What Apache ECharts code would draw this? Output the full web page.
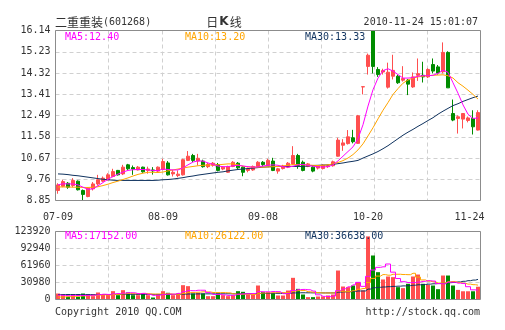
<!DOCTYPE html>
<html>
<head>
<meta charset="utf-8">
<script src="https://cdn.jsdelivr.net/npm/echarts@6/dist/echarts.min.js"></script>
<style>
  html, body { margin: 0; padding: 0; background: #fff; }
  #chart { width: 505px; height: 330px; }
</style>
</head>
<body>
<div id="chart"></div>
<script>
// 二重重装 (601268) daily candles, 2010-07-09 .. 2010-11-24
const openP = [
  9.28, 9.46, 9.59, 9.49, 9.68, 9.28, 9.02, 9.35, 9.56, 9.68,
  9.74, 9.88, 10.14, 9.99, 10.38, 10.26, 10.16, 10.28, 10.14, 10.16,
  10.11, 10.18, 10.46, 9.99, 9.92, 9.95, 10.57, 10.78, 10.54, 10.54,
  10.30, 10.36, 10.39, 10.20, 10.06, 10.31, 10.45, 10.28, 10.14, 10.16,
  10.31, 10.49, 10.35, 10.54, 10.11, 10.22, 10.28, 10.42, 10.78, 10.49,
  10.31, 10.28, 10.24, 10.22, 10.30, 10.34, 10.75, 11.22, 11.29, 11.54,
  11.30, 13.72, 14.60, 16.14, 14.47, 14.36, 13.71, 14.18, 14.18, 14.01,
  14.01, 13.72, 14.22, 14.22, 14.15, 14.68, 14.58, 14.37, 15.20, 12.58,
  12.37, 12.34, 12.28, 12.37, 11.87
];
const closeP = [
  9.52, 9.66, 9.42, 9.71, 9.31, 9.11, 9.38, 9.56, 9.74, 9.81,
  9.95, 10.09, 9.95, 10.28, 10.21, 10.20, 10.28, 10.08, 10.20, 10.12,
  10.28, 10.52, 9.95, 10.06, 9.98, 10.60, 10.75, 10.57, 10.66, 10.30,
  10.40, 10.45, 10.14, 10.28, 10.31, 10.49, 10.25, 10.06, 10.21, 10.31,
  10.49, 10.39, 10.57, 10.14, 10.21, 10.33, 10.45, 10.78, 10.35, 10.14,
  10.42, 10.11, 10.32, 10.36, 10.34, 10.51, 11.44, 11.32, 11.58, 11.37,
  12.48, 13.73, 15.08, 14.60, 14.25, 14.42, 14.35, 14.43, 13.90, 14.08,
  13.84, 14.15, 14.29, 14.15, 14.47, 14.40, 14.32, 15.20, 13.68, 12.30,
  12.44, 12.58, 12.39, 12.01, 12.62
];
const lowP = [
  9.14, 9.42, 9.35, 9.42, 9.28, 8.85, 8.99, 9.28, 9.49, 9.64,
  9.71, 9.85, 9.92, 9.94, 10.16, 9.95, 10.14, 10.04, 10.00, 9.96,
  10.06, 10.14, 9.92, 9.88, 9.85, 9.92, 10.54, 10.50, 10.35, 10.26,
  10.24, 10.30, 10.10, 10.15, 10.03, 10.28, 10.20, 9.89, 10.06, 10.12,
  10.26, 10.31, 10.33, 10.11, 10.00, 10.18, 10.24, 10.38, 10.21, 10.10,
  10.28, 10.06, 10.18, 10.18, 10.25, 10.30, 10.73, 10.98, 11.25, 11.30,
  11.28, 13.40, 14.25, 14.30, 14.15, 14.25, 13.65, 14.04, 13.85, 13.95,
  13.37, 13.68, 13.98, 13.91, 14.10, 14.30, 14.25, 14.30, 13.68, 12.25,
  11.72, 11.94, 12.20, 11.68, 11.85
];
const highP = [
  9.59, 9.74, 9.64, 9.81, 9.71, 9.32, 9.42, 9.64, 9.95, 9.88,
  10.02, 10.21, 10.16, 10.38, 10.42, 10.35, 10.33, 10.30, 10.30, 10.28,
  10.31, 10.64, 10.54, 10.16, 10.14, 10.64, 10.97, 10.85, 10.85, 10.60,
  10.46, 10.50, 10.46, 10.32, 10.34, 10.54, 10.50, 10.32, 10.26, 10.35,
  10.54, 10.54, 10.64, 10.68, 10.25, 10.38, 10.50, 11.18, 10.85, 10.56,
  10.46, 10.32, 10.36, 10.40, 10.38, 10.56, 11.54, 11.48, 11.87, 11.88,
  12.52, 13.73, 15.15, 16.14, 14.57, 14.50, 14.76, 15.10, 14.25, 14.61,
  14.06, 14.34, 14.94, 14.80, 14.52, 14.94, 14.66, 15.63, 15.25, 13.18,
  12.50, 12.60, 12.45, 12.72, 12.72
];
const volume = [
  10900, 7900, 4900, 7900, 4900, 10900, 9100, 6100, 12800, 9100,
  9100, 15200, 7900, 17000, 12800, 7900, 7900, 10300, 7900, 3600,
  9700, 15200, 12200, 7900, 10900, 26100, 24300, 10900, 12200, 10900,
  6100, 6100, 10900, 7900, 6100, 7900, 15200, 14000, 9100, 8500,
  25500, 13400, 13400, 11500, 7300, 7300, 16400, 39500, 19400, 9100,
  4300, 4300, 5500, 5500, 7300, 9100, 52800, 23700, 22500, 25500,
  31600, 16400, 115000, 80200, 49800, 36500, 41900, 40700, 22500, 20700,
  28600, 41900, 45500, 28600, 26700, 25500, 18800, 43700, 43700, 25500,
  17500, 15000, 15000, 15000, 23260
];
// price moving averages
const ma5 = [
  9.52, 9.57, 9.56, 9.56, 9.52, 9.42, 9.33, 9.35, 9.48, 9.62,
  9.76, 9.88, 9.98, 10.07, 10.14, 10.17, 10.18, 10.18, 10.16, 10.14,
  10.13, 10.20, 10.18, 10.16, 10.16, 10.25, 10.38, 10.50, 10.55, 10.54,
  10.46, 10.40, 10.33, 10.30, 10.30, 10.34, 10.36, 10.33, 10.30, 10.28,
  10.29, 10.33, 10.36, 10.38, 10.36, 10.30, 10.28, 10.32, 10.38, 10.40,
  10.36, 10.32, 10.29, 10.29, 10.30, 10.38, 10.55, 10.75, 10.95, 11.15,
  11.50, 12.10, 12.90, 13.60, 14.10, 14.42, 14.50, 14.40, 14.25, 14.10,
  14.10, 14.12, 14.18, 14.20, 14.20, 14.22, 14.30, 14.44, 14.35, 13.90,
  13.45, 12.95, 12.55, 12.36, 12.40
];
const ma10 = [
  9.43, 9.43, 9.43, 9.42, 9.42, 9.41, 9.41, 9.42, 9.44, 9.49,
  9.55, 9.62, 9.68, 9.75, 9.82, 9.90, 9.97, 10.02, 10.06, 10.06,
  10.05, 10.07, 10.12, 10.16, 10.20, 10.24, 10.28, 10.31, 10.34, 10.36,
  10.37, 10.38, 10.38, 10.40, 10.42, 10.42, 10.38, 10.32, 10.29, 10.28,
  10.28, 10.28, 10.29, 10.30, 10.31, 10.33, 10.36, 10.39, 10.39, 10.38,
  10.37, 10.36, 10.35, 10.36, 10.38, 10.42, 10.48, 10.56, 10.67, 10.82,
  11.02, 11.28, 11.62, 11.97, 12.35, 12.72, 13.05, 13.40, 13.65, 13.88,
  14.02, 14.10, 14.15, 14.18, 14.20, 14.22, 14.23, 14.24, 14.20, 14.10,
  13.90, 13.75, 13.58, 13.40, 13.20
];
const ma30 = [
  9.99, 9.98, 9.96, 9.93, 9.91, 9.88, 9.85, 9.82, 9.79, 9.76,
  9.74, 9.72, 9.71, 9.71, 9.71, 9.71, 9.71, 9.71, 9.71, 9.71,
  9.72, 9.74, 9.75, 9.77, 9.80, 9.83, 9.87, 9.90, 9.94, 9.97,
  10.00, 10.03, 10.06, 10.08, 10.12, 10.15, 10.18, 10.20, 10.22, 10.24,
  10.26, 10.28, 10.29, 10.30, 10.31, 10.31, 10.31, 10.31, 10.31, 10.31,
  10.33, 10.35, 10.36, 10.37, 10.38, 10.40, 10.43, 10.46, 10.50, 10.53,
  10.57, 10.67, 10.76, 10.85, 10.95, 11.07, 11.20, 11.35, 11.50, 11.65,
  11.78, 11.90, 12.03, 12.15, 12.28, 12.40, 12.55, 12.68, 12.80, 12.92,
  13.00, 13.10, 13.18, 13.26, 13.33
];
// volume moving averages
const volMa5 = [
  8000, 7500, 7000, 7500, 7300, 7300, 7540, 7780, 8760, 9600,
  9240, 10460, 10820, 11660, 12400, 12160, 10700, 11180, 9360, 7520,
  7880, 9340, 9720, 9720, 11180, 14460, 16280, 16020, 16880, 16880,
  12880, 9240, 9240, 8380, 7420, 7780, 9600, 10220, 10460, 10940,
  14460, 14100, 13980, 14460, 14220, 10580, 11180, 16400, 17980, 18340,
  17740, 15320, 8520, 5740, 5380, 6340, 16040, 19680, 23080, 26720,
  31220, 23940, 42200, 53740, 58600, 59580, 64680, 49820, 38280, 32460,
  30880, 30880, 31840, 33060, 34260, 33640, 29020, 28660, 31680, 31440,
  29840, 29080, 23340, 17600, 17152
];
const volMa10 = [
  4500, 4800, 5200, 5600, 6000, 6500, 7000, 7500, 8000, 8450,
  8270, 9000, 9300, 10210, 11000, 10700, 10580, 11000, 10510, 9960,
  10020, 10020, 10450, 9540, 9350, 11170, 12810, 12870, 13300, 14030,
  13670, 12760, 12630, 12630, 12150, 10330, 9420, 9730, 9420, 9180,
  11120, 11850, 12100, 12460, 12580, 12520, 12640, 15190, 16220, 16280,
  14160, 13250, 12460, 11860, 11860, 12040, 15680, 14100, 14410, 16050,
  18780, 19990, 30940, 38410, 42660, 45400, 44310, 46010, 46010, 45530,
  45230, 47780, 40830, 35670, 33360, 32260, 29950, 30250, 32370, 32850,
  31000, 29500, 28000, 27000, 26122
];
const volMa30 = [
  9000, 9000, 9100, 9100, 9100, 9000, 9000, 9000, 9100, 9100,
  9100, 9200, 9200, 9300, 9300, 9300, 9300, 9300, 9300, 9200,
  9200, 9300, 9300, 9300, 9300, 9700, 10000, 10100, 10200, 10300,
  10300, 10300, 10400, 10400, 10400, 10400, 10500, 10600, 10600, 10600,
  11000, 11100, 11100, 11200, 11200, 11200, 11400, 12000, 12300, 12300,
  12200, 12100, 12100, 12000, 12000, 12000, 13400, 13800, 14200, 14700,
  15500, 15600, 19000, 21500, 22200, 22800, 23400, 23900, 24300, 24800,
  25300, 26000, 26800, 27300, 28000, 28600, 29000, 29800, 30600, 31000,
  32000, 33200, 34300, 35400, 36638
];
// axis tick labels
const priceTicks = ['8.85', '9.76', '10.67', '11.58', '12.49', '13.41', '14.32', '15.23', '16.14'];
const volTicks = ['0', '30980', '61960', '92940', '123920'];
// trading-day index -> date label shown under the candles
const dateLabels = { 0: '07-09', 21: '08-09', 41: '09-08', 62: '10-20', 84: '11-24' };

const UP = '#ff4f4f', DOWN = '#008c00';
const C5 = '#ff00ff', C10 = '#ffa500', C30 = '#10335f';
const MONO = '"DejaVu Sans Mono", "Liberation Mono", monospace';
const CJK = '"Noto Sans CJK SC", sans-serif';

const n = closeP.length;
const days = closeP.map((_, i) => String(i));
const lastDay = n - 1;
const catData = days.map((d, i) => i === lastDay ? { value: d, textStyle: { padding: [0, 17, 0, 0] } } : d);
const candles = closeP.map((c, i) => [openP[i], c, lowP[i], highP[i]]);
const volBars = volume.map((v, i) => ({
  value: v,
  itemStyle: { color: closeP[i] >= openP[i] ? UP : DOWN }
}));
const last = a => a[a.length - 1];

const dashed = { show: true, lineStyle: { color: '#d0d0d0', type: [4, 3], width: 1 } };
const label10 = { color: '#333', fontSize: 10, fontFamily: MONO };

const chart = echarts.init(document.getElementById('chart'), null, { renderer: 'canvas' });
chart.setOption({
  animation: false,
  backgroundColor: '#fff',
  textStyle: { fontFamily: MONO },
  grid: [
    { left: 55.5, top: 30.5, width: 425, height: 170, show: true, borderColor: '#8c8c8c', borderWidth: 1, backgroundColor: 'transparent', z: 3 },
    { left: 55.5, top: 231.5, width: 425, height: 68, show: true, borderColor: '#8c8c8c', borderWidth: 1, backgroundColor: 'transparent', z: 3 }
  ],
  xAxis: [
    {
      type: 'category', gridIndex: 0, data: catData, boundaryGap: true,
      axisLine: { show: false }, axisTick: { show: false }, splitLine: { show: false },
      axisLabel: Object.assign({ interval: 0, margin: 12, formatter: (v) => dateLabels[v] || '' }, label10)
    },
    {
      type: 'value', gridIndex: 0, min: 0, max: 8, interval: 1,
      axisLine: { show: false }, axisTick: { show: false }, axisLabel: { show: false },
      splitLine: dashed
    },
    {
      type: 'category', gridIndex: 1, data: days, boundaryGap: true,
      axisLine: { show: false }, axisTick: { show: false }, axisLabel: { show: false }, splitLine: { show: false }
    },
    {
      type: 'value', gridIndex: 1, min: 0, max: 8, interval: 1,
      axisLine: { show: false }, axisTick: { show: false }, axisLabel: { show: false },
      splitLine: dashed
    }
  ],
  yAxis: [
    {
      type: 'value', gridIndex: 0, min: 8.85, max: 16.14, interval: 0.91125,
      axisLine: { show: false }, axisTick: { show: false },
      axisLabel: Object.assign({ margin: 5, formatter: (v, i) => priceTicks[i] }, label10),
      splitLine: dashed
    },
    {
      type: 'value', gridIndex: 1, min: 0, max: 123920, interval: 30980,
      axisLine: { show: false }, axisTick: { show: false },
      axisLabel: Object.assign({ margin: 5, formatter: (v, i) => volTicks[i] }, label10),
      splitLine: dashed
    }
  ],
  series: [
    {
      type: 'candlestick', xAxisIndex: 0, yAxisIndex: 0, data: candles, barWidth: 3,
      itemStyle: { color: UP, color0: DOWN, borderColor: UP, borderColor0: DOWN, borderWidth: 1 }
    },
    { type: 'line', xAxisIndex: 0, yAxisIndex: 0, data: ma30, showSymbol: false, lineStyle: { color: C30, width: 1 } },
    { type: 'line', xAxisIndex: 0, yAxisIndex: 0, data: ma10, showSymbol: false, lineStyle: { color: C10, width: 1 } },
    { type: 'line', xAxisIndex: 0, yAxisIndex: 0, data: ma5, showSymbol: false, lineStyle: { color: C5, width: 1 } },
    { type: 'bar', xAxisIndex: 2, yAxisIndex: 1, data: volBars, barWidth: 4 },
    { type: 'line', xAxisIndex: 2, yAxisIndex: 1, data: volMa30, step: 'middle', showSymbol: false, lineStyle: { color: C30, width: 1 } },
    { type: 'line', xAxisIndex: 2, yAxisIndex: 1, data: volMa10, step: 'middle', showSymbol: false, lineStyle: { color: C10, width: 1 } },
    { type: 'line', xAxisIndex: 2, yAxisIndex: 1, data: volMa5, step: 'middle', showSymbol: false, lineStyle: { color: C5, width: 1 } }
  ],
  graphic: [
    {
      type: 'text', x: 55, y: 22, z: 100,
      style: {
        text: '{a|二重重装}{b|(601268)}', verticalAlign: 'middle', align: 'left',
        rich: {
          a: { fontFamily: CJK, fontSize: 12, fill: '#333' },
          b: { fontFamily: MONO, fontSize: 10, fill: '#333' }
        }
      }
    },
    {
      type: 'text', x: 224, y: 22, z: 100,
      style: {
        text: '{a|日}{k|K}{a|线}', align: 'center', verticalAlign: 'middle',
        rich: {
          a: { fontFamily: CJK, fontSize: 12, fill: '#333' },
          k: { fontFamily: '"DejaVu Sans", sans-serif', fontSize: 12, fontWeight: 'bold', fill: '#333', padding: [0, 1, 0, 1] }
        }
      }
    },
    { type: 'text', x: 478, y: 22, z: 100, style: { text: '2010-11-24 15:01:07', font: '10px ' + MONO, fill: '#333', align: 'right', verticalAlign: 'middle' } },
    { type: 'text', x: 65, y: 37, z: 100, style: { text: 'MA5:' + last(ma5).toFixed(2), font: '10px ' + MONO, fill: C5, verticalAlign: 'middle' } },
    { type: 'text', x: 185, y: 37, z: 100, style: { text: 'MA10:' + last(ma10).toFixed(2), font: '10px ' + MONO, fill: C10, verticalAlign: 'middle' } },
    { type: 'text', x: 305, y: 37, z: 100, style: { text: 'MA30:' + last(ma30).toFixed(2), font: '10px ' + MONO, fill: C30, verticalAlign: 'middle' } },
    { type: 'text', x: 65, y: 236, z: 100, style: { text: 'MA5:' + last(volMa5).toFixed(2), font: '10px ' + MONO, fill: C5, verticalAlign: 'middle' } },
    { type: 'text', x: 185, y: 236, z: 100, style: { text: 'MA10:' + last(volMa10).toFixed(2), font: '10px ' + MONO, fill: C10, verticalAlign: 'middle' } },
    { type: 'text', x: 305, y: 236, z: 100, style: { text: 'MA30:' + last(volMa30).toFixed(2), font: '10px ' + MONO, fill: C30, verticalAlign: 'middle' } },
    { type: 'text', x: 55, y: 312, z: 100, style: { text: 'Copyright 2010 QQ.COM', font: '10px ' + MONO, fill: '#333', verticalAlign: 'middle' } },
    { type: 'text', x: 480, y: 312, z: 100, style: { text: 'http://stock.qq.com', font: '10px ' + MONO, fill: '#333', align: 'right', verticalAlign: 'middle' } }
  ]
});
</script>
</body>
</html>
